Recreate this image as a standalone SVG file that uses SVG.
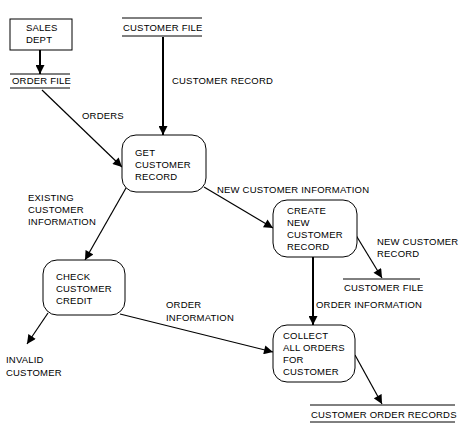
<svg xmlns="http://www.w3.org/2000/svg" width="462" height="432" viewBox="0 0 462 432">
<defs>
<marker id="ah" viewBox="0 0 10 10" refX="10" refY="5" markerWidth="10" markerHeight="9" markerUnits="userSpaceOnUse" orient="auto">
<path d="M0,0 L10,5 L0,10 Z" fill="#000"/>
</marker>
</defs>
<style>
text{font-family:"Liberation Sans",Arial,sans-serif;font-size:9.5px;fill:#000;letter-spacing:0.2px}
.proc{fill:#fff;stroke:#000;stroke-width:1}
.ext{fill:#fff;stroke:#000;stroke-width:1}
.store{stroke:#000;stroke-width:1}
.flow{stroke:#000;stroke-width:1.2;fill:none;marker-end:url(#ah)}
.thick{stroke-width:2}
</style>
<rect width="462" height="432" fill="#fff"/>

<g id="connectors">
<line class="flow thick" x1="40" y1="50" x2="40" y2="74"/>
<line class="flow thick" x1="163" y1="37" x2="163" y2="135"/>
<line class="flow" x1="42" y1="90" x2="122" y2="167"/>
<line class="flow" x1="204" y1="187" x2="273" y2="228"/>
<line class="flow" x1="126" y1="188" x2="85" y2="260"/>
<line class="flow" x1="354" y1="232" x2="382" y2="278"/>
<line class="flow thick" x1="313" y1="257" x2="313" y2="325"/>
<line class="flow" x1="48" y1="313" x2="27" y2="344"/>
<line class="flow" x1="120" y1="314" x2="273" y2="352"/>
<line class="flow" x1="355" y1="355" x2="382" y2="404"/>
<text x="172" y="84">CUSTOMER RECORD</text>
<text x="82" y="119">ORDERS</text>
<text x="217" y="193">NEW CUSTOMER INFORMATION</text>
<text x="28" y="201">EXISTING</text>
<text x="28" y="213">CUSTOMER</text>
<text x="28" y="225">INFORMATION</text>
<text x="377" y="245">NEW CUSTOMER</text>
<text x="377" y="257">RECORD</text>
<text x="316" y="308">ORDER INFORMATION</text>
<text x="166" y="308">ORDER</text>
<text x="166" y="321">INFORMATION</text>
<text x="6" y="363">INVALID</text>
<text x="6" y="376">CUSTOMER</text>
</g>

<g id="sales-dept">
<rect class="ext" x="10" y="19" width="62" height="31"/>
<text x="26" y="31">SALES</text>
<text x="26" y="43">DEPT</text>
</g>

<g id="order-file">
<line class="store" x1="10" y1="74" x2="70" y2="74"/>
<line class="store" x1="10" y1="88" x2="70" y2="88"/>
<text x="12" y="84">ORDER FILE</text>
</g>

<g id="customer-file-1">
<line class="store" x1="122" y1="18" x2="202" y2="18"/>
<line class="store" x1="122" y1="36" x2="202" y2="36"/>
<text x="123" y="31">CUSTOMER FILE</text>
</g>

<g id="get-customer-record">
<rect class="proc" x="122" y="135" width="84" height="57" rx="14"/>
<text x="135" y="156">GET</text>
<text x="135" y="168">CUSTOMER</text>
<text x="135" y="180">RECORD</text>
</g>

<g id="create-new-customer-record">
<rect class="proc" x="273" y="200" width="84" height="57" rx="14"/>
<text x="287" y="214">CREATE</text>
<text x="287" y="226">NEW</text>
<text x="287" y="238">CUSTOMER</text>
<text x="287" y="250">RECORD</text>
</g>

<g id="customer-file-2">
<line class="store" x1="343" y1="279" x2="420" y2="279"/>
<text x="344" y="291">CUSTOMER FILE</text>
</g>

<g id="check-customer-credit">
<rect class="proc" x="43" y="260" width="82" height="55" rx="14"/>
<text x="56" y="280">CHECK</text>
<text x="56" y="292">CUSTOMER</text>
<text x="56" y="304">CREDIT</text>
</g>

<g id="collect-all-orders">
<rect class="proc" x="273" y="325" width="82" height="57" rx="14"/>
<text x="283" y="339">COLLECT</text>
<text x="283" y="351">ALL ORDERS</text>
<text x="283" y="363">FOR</text>
<text x="283" y="375">CUSTOMER</text>
</g>

<g id="customer-order-records">
<line class="store" x1="310" y1="405" x2="455" y2="405"/>
<line class="store" x1="310" y1="422" x2="455" y2="422"/>
<text x="311" y="418">CUSTOMER ORDER RECORDS</text>
</g>
</svg>
